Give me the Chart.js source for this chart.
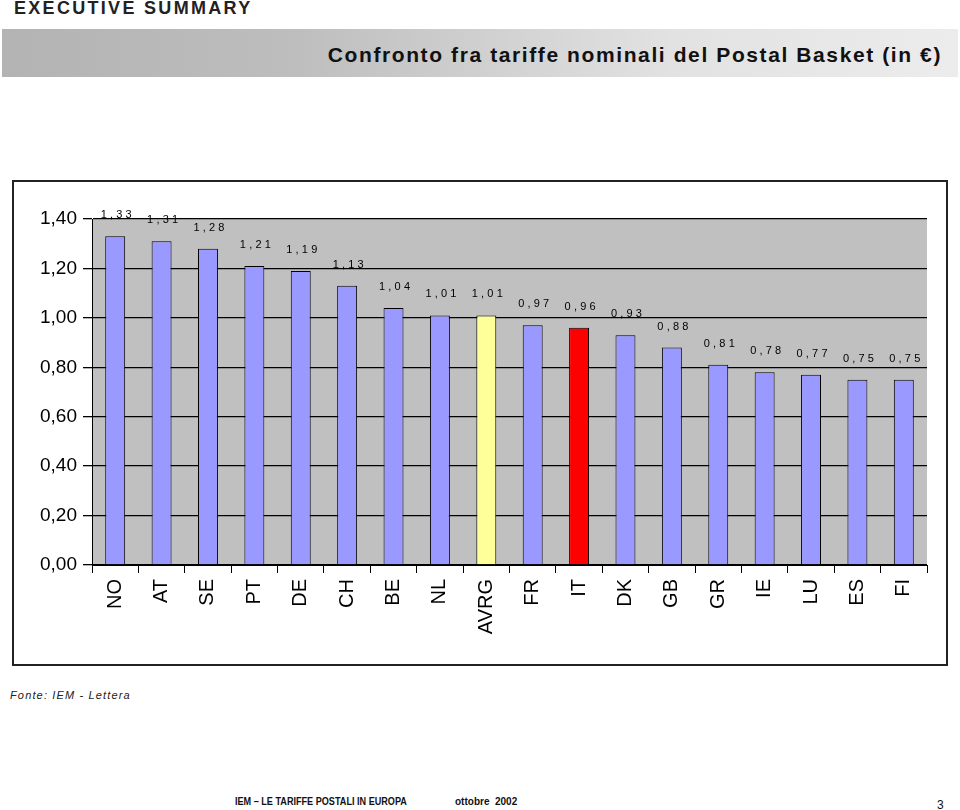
<!DOCTYPE html>
<html>
<head>
<meta charset="utf-8">
<script src="https://cdn.jsdelivr.net/npm/chart.js@4/dist/chart.umd.min.js"></script>
<style>
  html, body { margin: 0; padding: 0; background: #fff; }
  #page { position: relative; width: 960px; height: 810px; overflow: hidden; font-family: "Liberation Sans", Arial, sans-serif; }
  #exec { position: absolute; left: 14px; top: -2px; font-size: 18px; font-weight: bold; color: #222; letter-spacing: 2.3px; }
  #titlebar { position: absolute; left: 2px; top: 29px; width: 956px; height: 48px;
    background: linear-gradient(to right, #b3b3b3 0%, #bdbdbd 30%, #e2e2e2 70%, #ececec 100%); }
  #title { position: absolute; right: 16px; top: 14px; font-size: 21px; font-weight: bold; color: #111; letter-spacing: 1.6px; white-space: nowrap; }
  #frame { position: absolute; left: 12px; top: 180px; width: 936px; height: 486px; border: 2px solid #222; box-sizing: border-box; }
  #chart { position: absolute; left: 14px; top: 182px; }
  #fonte { position: absolute; left: 10px; top: 689px; font-size: 11px; font-style: italic; letter-spacing: 1.15px; color: #222; }
  #foot1 { position: absolute; left: 235px; top: 796px; font-size: 10px; font-weight: bold; color: #111; transform: scaleX(0.91); transform-origin: left top; white-space: nowrap; }
  #foot2 { position: absolute; left: 455px; top: 796px; font-size: 10px; font-weight: bold; color: #111; white-space: nowrap; }
  #pnum { position: absolute; left: 937px; top: 798px; font-size: 12px; color: #111; }
</style>
</head>
<body>
<div id="page">
  <div id="exec">EXECUTIVE SUMMARY</div>
  <div id="titlebar"><div id="title">Confronto fra tariffe nominali del Postal Basket (in €)</div></div>
  <div id="frame"></div>
  <canvas id="chart" width="932" height="482"></canvas>
  <div id="fonte">Fonte: IEM - Lettera</div>
  <div id="foot1">IEM – LE TARIFFE POSTALI IN EUROPA</div>
  <div id="foot2">ottobre&nbsp;&nbsp;2002</div>
  <div id="pnum">3</div>
</div>
<script>
const categories = ["NO","AT","SE","PT","DE","CH","BE","NL","AVRG","FR","IT","DK","GB","GR","IE","LU","ES","FI"];
const tariffe = [1.33,1.31,1.28,1.21,1.19,1.13,1.04,1.01,1.01,0.97,0.96,0.93,0.88,0.81,0.78,0.77,0.75,0.75];
const yTicks = [0, 0.2, 0.4, 0.6, 0.8, 1.0, 1.2, 1.4];

const fmt = v => v.toFixed(2).replace('.', ',');
const barColors = categories.map(c => c === 'AVRG' ? '#ffff99' : (c === 'IT' ? '#ff0000' : '#9999ff'));

const plotBg = {
  id: 'plotBg',
  beforeDraw(chart) {
    const { ctx, chartArea: a } = chart;
    ctx.save();
    ctx.fillStyle = '#c0c0c0';
    ctx.fillRect(a.left, a.top, a.right - a.left, a.bottom - a.top);
    ctx.restore();
  }
};

const valueLabels = {
  id: 'valueLabels',
  afterDatasetsDraw(chart) {
    const { ctx } = chart;
    const meta = chart.getDatasetMeta(0);
    ctx.save();
    ctx.font = '11px "Liberation Sans", Arial, sans-serif';
    ctx.fillStyle = '#000';
    ctx.textBaseline = 'middle';
    ctx.textAlign = 'left';
    const sp = 3.2;
    try { ctx.letterSpacing = sp + 'px'; } catch (e) {}
    meta.data.forEach((bar, i) => {
      const txt = fmt(tariffe[i]);
      const w = ctx.measureText(txt).width;
      const hasLS = ctx.letterSpacing !== undefined && ctx.letterSpacing !== '0px';
      const ww = hasLS ? w - sp : w;
      ctx.fillText(txt, bar.x - ww / 2 + 1, bar.y - 21);
    });
    ctx.restore();
  }
};

new Chart(document.getElementById('chart'), {
  type: 'bar',
  data: {
    labels: categories,
    datasets: [{
      data: tariffe,
      backgroundColor: barColors,
      borderColor: '#000',
      borderWidth: 1,
      categoryPercentage: 1,
      barPercentage: 0.43
    }]
  },
  options: {
    responsive: false,
    animation: false,
    events: [],
    layout: { padding: { left: 0, right: 19, top: 37, bottom: 0 } },
    plugins: { legend: { display: false }, tooltip: { enabled: false }, title: { display: false } },
    scales: {
      x: {
        grid: { offset: true, drawOnChartArea: false, tickLength: 8, color: '#000', lineWidth: 1 },
        border: { display: true, color: '#000', width: 1 },
        ticks: {
          autoSkip: false, minRotation: 90, maxRotation: 90, padding: 6,
          color: '#000', font: { family: '"Liberation Sans", Arial, sans-serif', size: 20 }
        },
        afterFit(scale) { scale.height = 99; }
      },
      y: {
        min: 0, max: 1.4,
        afterBuildTicks(scale) { scale.ticks = yTicks.map(v => ({ value: v })); },
        grid: { color: '#000', lineWidth: 1.3, tickLength: 9 },
        border: { display: true, color: '#000', width: 1 },
        ticks: {
          padding: 6, color: '#000',
          font: { family: '"Liberation Sans", Arial, sans-serif', size: 19 },
          callback: v => fmt(v)
        },
        afterFit(scale) { scale.width = 78; }
      }
    }
  },
  plugins: [plotBg, valueLabels]
});
</script>
</body>
</html>
